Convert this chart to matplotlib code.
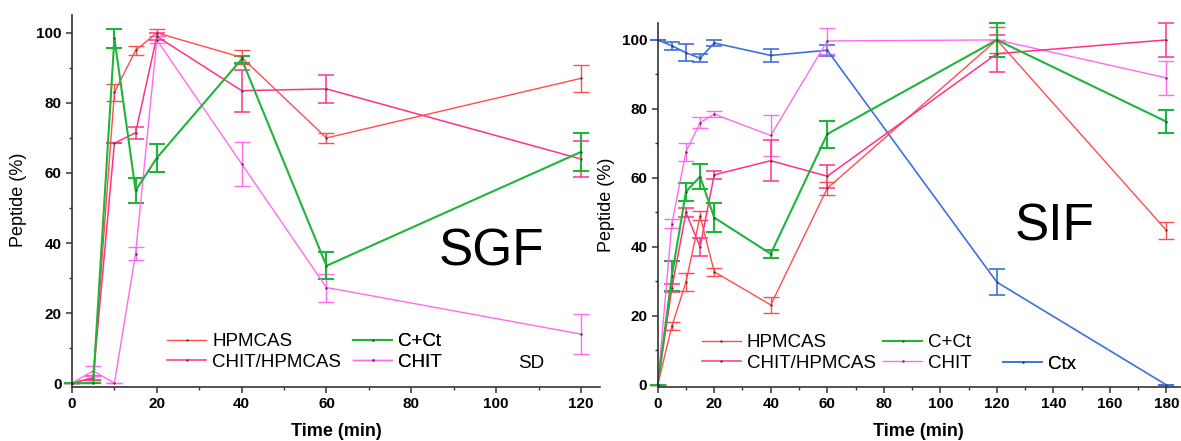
import matplotlib
matplotlib.use("Agg")
import matplotlib.pyplot as plt
from matplotlib.lines import Line2D
from matplotlib.ticker import MultipleLocator

plt.rcParams['font.family'] = ['Liberation Sans', 'DejaVu Sans']

# ---------------- data ----------------
t_sgf = [0, 5, 10, 15, 20, 40, 60, 120]
hpmcas_sgf = [0, 1.5, 83, 95, 100, 93, 70, 87]
hpmcas_sgf_sd = [0, 0.6, 2.5, 1.2, 1.0, 2.0, 1.5, 3.8]
chithp_sgf = [0, 1.5, 68.5, 71.5, 99, 83.5, 84, 64]
chithp_sgf_sd = [0, 0.6, 0, 1.7, 1.0, 6.0, 4.0, 5.2]
cct_sgf = [0, 0, 98.5, 55, 64.3, 92.5, 33.5, 66]
cct_sgf_sd = [0, 0, 2.7, 3.7, 4.1, 1.0, 3.9, 5.5]
chit_sgf = [0, 3.5, 0, 37, 98, 62.6, 27.3, 14]
chit_sgf_sd = [0, 1.4, 0, 1.8, 1.0, 6.2, 4.0, 5.6]

t_sif = [0, 5, 10, 15, 20, 40, 60, 120, 180]
hpmcas_sif = [0, 17, 29.8, 49, 32.8, 23.2, 57, 100, 44.8]
hpmcas_sif_sd = [0, 1.2, 2.6, 1.3, 1.2, 2.3, 1.9, 3.8, 2.5]
chithp_sif = [0, 28, 50, 40, 60.9, 65, 60.5, 96, 100]
chithp_sif_sd = [0, 1.2, 1.3, 2.5, 1.2, 6.0, 3.3, 5.4, 5.0]
cct_sif = [0, 31.5, 56, 60.4, 48.5, 38, 72.7, 100, 76.3]
cct_sif_sd = [0, 4.3, 2.6, 3.7, 4.2, 1.1, 3.9, 5.0, 3.3]
chit_sif = [0, 46.7, 67.6, 76, 78.5, 72.3, 99.7, 100, 89]
chit_sif_sd = [0, 1.3, 2.6, 1.6, 0.9, 6.0, 3.8, 0, 5.0]
ctx_sif = [100, 98.3, 96.3, 94.7, 99.1, 95.5, 97, 29.8, 0]
ctx_sif_sd = [0, 1.2, 2.4, 1.2, 0.9, 2.0, 1.6, 3.8, 0]

labels = ['HPMCAS', 'CHIT/HPMCAS', 'C+Ct', 'CHIT', 'Ctx']
colors = {'HPMCAS': '#ff4d4d', 'CHIT/HPMCAS': '#ff3385', 'C+Ct': '#1fb43a',
          'CHIT': '#ff6bef', 'Ctx': '#3d6fe0'}
widths = {'HPMCAS': 1.0, 'CHIT/HPMCAS': 1.1, 'C+Ct': 1.5, 'CHIT': 1.0, 'Ctx': 1.2}

W, H = 1181, 441
fig = plt.figure(figsize=(W / 100, H / 100), dpi=100)

def frac_box(x0, x1, ytop, ybot):
    return [x0 / W, 1 - ybot / H, (x1 - x0) / W, (ybot - ytop) / H]

ax1 = fig.add_axes(frac_box(72, 600, 15, 387))
ax2 = fig.add_axes(frac_box(657.7, 1180, 23, 386.7))

def draw(ax, t, y, sd, name):
    c = colors[name]
    lw = widths[name]
    ax.errorbar(t, y, yerr=sd, color=c, lw=lw, elinewidth=lw, capsize=5.5,
                capthick=lw, marker='.', ms=1.5, mfc='#444444', mec='#444444',
                label=name, clip_on=False)

draw(ax1, t_sgf, hpmcas_sgf, hpmcas_sgf_sd, 'HPMCAS')
draw(ax1, t_sgf, chithp_sgf, chithp_sgf_sd, 'CHIT/HPMCAS')
draw(ax1, t_sgf, chit_sgf, chit_sgf_sd, 'CHIT')
draw(ax1, t_sgf, cct_sgf, cct_sgf_sd, 'C+Ct')

draw(ax2, t_sif, ctx_sif, ctx_sif_sd, 'Ctx')
draw(ax2, t_sif, hpmcas_sif, hpmcas_sif_sd, 'HPMCAS')
draw(ax2, t_sif, chit_sif, chit_sif_sd, 'CHIT')
draw(ax2, t_sif, chithp_sif, chithp_sif_sd, 'CHIT/HPMCAS')
draw(ax2, t_sif, cct_sif, cct_sif_sd, 'C+Ct')

ax1.set_xlim(0, 124.5)
ax1.set_ylim(-1.1, 105.1)
ax2.set_xlim(0, 184.8)
ax2.set_ylim(-0.5, 104.9)

for ax, xmaj in ((ax1, 20), (ax2, 20)):
    for s in ('top', 'right'):
        ax.spines[s].set_visible(False)
    for s in ('left', 'bottom'):
        ax.spines[s].set_color('#333333')
        ax.spines[s].set_linewidth(1.2)
    ax.xaxis.set_major_locator(MultipleLocator(xmaj))
    ax.xaxis.set_minor_locator(MultipleLocator(xmaj / 2))
    ax.yaxis.set_major_locator(MultipleLocator(20))
    ax.yaxis.set_minor_locator(MultipleLocator(10))
    ax.tick_params(which='major', direction='out', length=4.5, width=1.1,
                   color='#333333', pad=3)
    ax.tick_params(which='minor', direction='out', length=2.5, width=1.0,
                   color='#333333')
    for lab in ax.get_xticklabels() + ax.get_yticklabels():
        lab.set_fontsize(11)
        lab.set_fontweight('bold')
    ax.set_xlabel('Time (min)', fontsize=13, fontweight='bold')
    ax.set_ylabel('Peptide (%)', fontsize=13)

ax1.yaxis.set_label_coords(-0.085, 0.503)
ax2.yaxis.set_label_coords(-0.082, 0.5)
ax1.xaxis.set_label_coords(0.5, -0.097)
ax2.xaxis.set_label_coords(0.5, -0.1)

ax1.text(99, 37.4, 'SGF', fontsize=37, ha='center', va='center')
ax2.text(140.3, 45.7, 'SIF', fontsize=37, ha='center', va='center')

# legends placed column by column
def handle(name):
    c = colors[name]
    return Line2D([], [], color=c, lw=widths[name], marker='.', ms=1.5,
                  mfc='#444444', mec='#444444')

LEG_FS = 13.5

def legend_col(ax, names, xpix, ypix):
    leg = ax.legend([handle(n) for n in names], names, loc='center left',
                    bbox_to_anchor=(xpix / W, 1 - ypix / H),
                    bbox_transform=fig.transFigure, frameon=False,
                    fontsize=LEG_FS, handlelength=2.1, handletextpad=0.3,
                    labelspacing=0.2, borderpad=0, borderaxespad=0)
    ax.add_artist(leg)

legend_col(ax1, ['HPMCAS', 'CHIT/HPMCAS'], 167, 352)
legend_col(ax1, ['C+Ct', 'CHIT'], 353, 352)
fig.text(518 / W, 1 - 363 / H, 'SD', fontsize=LEG_FS, ha='left', va='center')

legend_col(ax2, ['HPMCAS', 'CHIT/HPMCAS'], 701.7, 353)
legend_col(ax2, ['C+Ct', 'CHIT'], 883, 353)
leg = ax2.legend([handle('Ctx')], ['Ctx'], loc='center left',
                 bbox_to_anchor=(1003 / W, 1 - 364 / H),
                 bbox_transform=fig.transFigure, frameon=False,
                 fontsize=LEG_FS, handlelength=2.1, handletextpad=0.3,
                 borderpad=0, borderaxespad=0)
ax2.add_artist(leg)

fig.savefig('out.png', dpi=100)
